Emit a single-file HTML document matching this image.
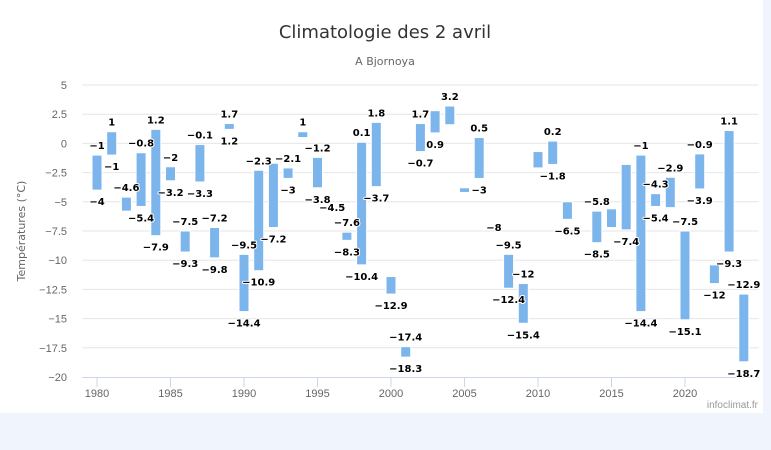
<!DOCTYPE html>
<html><head><meta charset="utf-8">
<style>
body{margin:0;background:#f0f5fd;}
svg{display:block;font-family:"Liberation Sans","DejaVu Sans",sans-serif;}
.lbl{font-family:"DejaVu Sans",sans-serif;font-size:10px;font-weight:bold;fill:#000;stroke:#fff;stroke-width:2px;paint-order:stroke;stroke-linejoin:round;}
</style></head>
<body>
<svg id="chart" width="771" height="450">
<rect x="0" y="0" width="763" height="413" fill="#fff"/>
<text x="385" y="38" text-anchor="middle" font-size="18" fill="#333" style="font-family:'DejaVu Sans',sans-serif">Climatologie des 2 avril</text>
<text x="385" y="65" text-anchor="middle" font-size="11" fill="#666" style="font-family:'DejaVu Sans',sans-serif">A Bjornoya</text>
<text transform="translate(25,231) rotate(-90)" text-anchor="middle" font-size="11" fill="#666" style="font-family:'DejaVu Sans',sans-serif">Températures (°C)</text>
<text x="758" y="408" text-anchor="end" font-size="10" fill="#999">infoclimat.fr</text>
<g id="grid"></g><g id="bars"></g><g id="labels"></g>
</svg>
<script>
const years=[1980,1981,1982,1983,1984,1985,1986,1987,1988,1989,1990,1991,1992,1993,1994,1995,1996,1997,1998,1999,2000,2001,2002,2003,2004,2005,2006,2007,2008,2009,2010,2011,2012,2014,2015,2016,2017,2018,2019,2020,2021,2022,2023,2024];
const lows=[-4,-1,-5.8,-5.4,-7.9,-3.2,-9.3,-3.3,-9.8,1.2,-14.4,-10.9,-7.2,-3,0.5,-3.8,-4.5,-8.3,-10.4,-3.7,-12.9,-18.3,-0.7,0.9,1.6,-4.2,-3,-8,-12.4,-15.4,-2.1,-1.8,-6.5,-8.5,-7.2,-7.4,-14.4,-5.4,-5.5,-15.1,-3.9,-12,-9.3,-18.7];
const highs=[-1,1,-4.6,-0.8,1.2,-2,-7.5,-0.1,-7.2,1.7,-9.5,-2.3,-1.7,-2.1,1,-1.2,-4.5,-7.6,0.1,1.8,-11.4,-17.4,1.7,2.8,3.2,-3.8,0.5,-8,-9.5,-12,-0.7,0.2,-5,-5.8,-5.6,-1.8,-1,-4.3,-2.9,-7.5,-0.9,-10.4,1.1,-12.9];
const lowLabels=[-4,-1,null,-5.4,-7.9,-3.2,-9.3,-3.3,-9.8,1.2,-14.4,-10.9,-7.2,-3,null,-3.8,-4.5,-8.3,-10.4,-3.7,-12.9,-18.3,-0.7,0.9,null,null,-3,null,-12.4,-15.4,null,-1.8,-6.5,-8.5,null,-7.4,-14.4,-5.4,null,-15.1,-3.9,-12,-9.3,-18.7];
const highLabels=[-1,1,-4.6,-0.8,1.2,-2,-7.5,-0.1,-7.2,1.7,-9.5,-2.3,null,-2.1,1,-1.2,null,-7.6,0.1,1.8,null,-17.4,1.7,null,3.2,null,0.5,-8,-9.5,-12,null,0.2,null,-5.8,null,null,-1,-4.3,-2.9,-7.5,-0.9,null,1.1,-12.9];
const yTicks=[5,2.5,0,-2.5,-5,-7.5,-10,-12.5,-15,-17.5,-20];
const xTicks=[1980,1985,1990,1995,2000,2005,2010,2015,2020];
const L=82.3,R=758.5,T=85,B=377;
const xs=v=>L+(v-1979)/(2025-1979)*(R-L);
const ys=v=>T+(5-v)/25*(B-T);
const NS='http://www.w3.org/2000/svg';
function mk(tag,attrs,parent,txt){const e=document.createElementNS(NS,tag);for(const k in attrs)e.setAttribute(k,attrs[k]);if(txt!==undefined)e.textContent=txt;parent.appendChild(e);return e;}
const g=document.getElementById('grid'),gb=document.getElementById('bars'),gl=document.getElementById('labels');
const fmt=v=>String(v).replace('-','−');
yTicks.forEach(t=>{
 const y=ys(t);
 if(t!==-20){const l=mk('line',{x1:L,x2:R,y1:y,y2:y,stroke:'#e6e6e6'},g);
 
 }
 const tx=mk('text',{x:67,y:y+4,'text-anchor':'end','font-size':11,fill:'#666'},g,fmt(t));
 
 
});
const ax=mk('line',{x1:L,x2:R,y1:B+0.5,y2:B+0.5,stroke:'#ccd6eb'},g);


xTicks.forEach(t=>{
 const x=xs(t);
 const tk=mk('line',{x1:x,x2:x,y1:B,y2:B+10,stroke:'#ccd6eb'},g);
 
 
 const tx=mk('text',{x:x,y:B+20,'text-anchor':'middle','font-size':11,fill:'#666'},g,t);
 
 
});
years.forEach((yr,i)=>{
 const x=xs(yr),y1=ys(highs[i]),y2=ys(lows[i]);
 const r=mk('rect',{x:x-5,y:y1,width:10,height:Math.max(y2-y1,1),fill:'#7cb5ec',stroke:'#fff','stroke-width':1},gb);
 
 
 if(highLabels[i]!==null){const t=mk('text',{x:x,y:y1-6,'text-anchor':'middle',class:'lbl'},gl,fmt(highLabels[i]));
 
 }
 if(lowLabels[i]!==null){const t=mk('text',{x:x,y:y2+15,'text-anchor':'middle',class:'lbl'},gl,fmt(lowLabels[i]));
 
 }
});
</script>
</body></html>
